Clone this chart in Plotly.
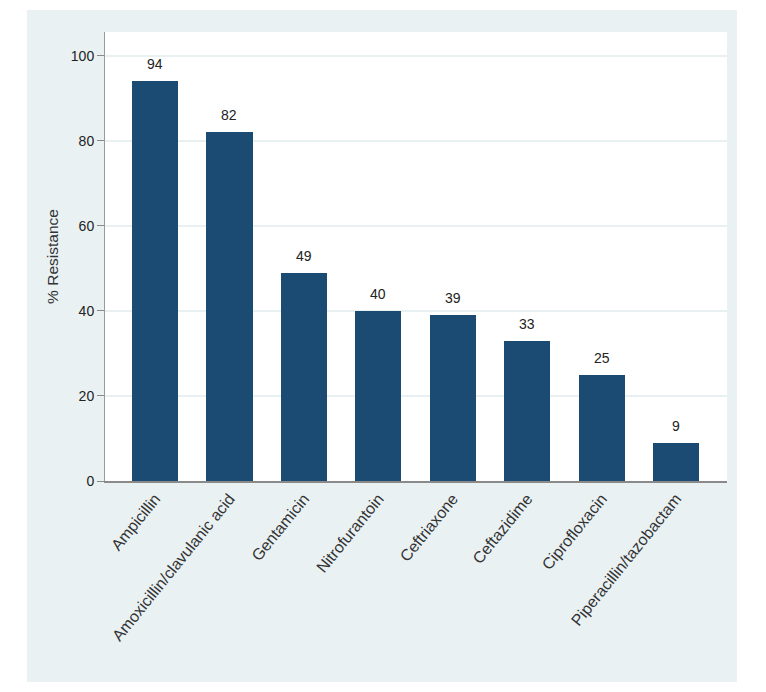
import plotly.graph_objects as go

categories = ["Ampicillin", "Amoxicillin/clavulanic acid", "Gentamicin", "Nitrofurantoin",
              "Ceftriaxone", "Ceftazidime", "Ciprofloxacin", "Piperacillin/tazobactam"]
resistance = [94, 82, 49, 40, 39, 33, 25, 9]
y_ticks = [0, 20, 40, 60, 80, 100]

# page has an 8px body margin; figure coordinates are page coordinates minus 8
OFF = 8
W, H = 750, 676
L, T = 105 - OFF, 32 - OFF
R = W - (727 - OFF)
B = H - (481 - OFF)
panel_bg = "#E9F1F3"
bar_color = "#1B4A73"

fig = go.Figure()
fig.add_trace(go.Bar(
    x=list(range(len(categories))), y=resistance,
    marker=dict(color=bar_color, line=dict(width=0)),
    width=0.62, showlegend=False, hoverinfo="skip",
))

for i, v in enumerate(resistance):
    fig.add_annotation(x=i, y=v, text=str(v), showarrow=False, yanchor="bottom",
                       yshift=7, font=dict(size=14, color="#222222",
                                           family="Liberation Sans, Arial, sans-serif"))

pw, ph = W - L - R, H - T - B
def px(x):
    return (x - L) / pw
def py(y):
    return (H - B - y) / ph
panel = (27 - OFF, 10 - OFF, 737 - OFF, 682 - OFF)  # left, top, right, bottom
for x0, y0, x1, y1 in [(0, 0, panel[0], H), (panel[2], 0, W, H),
                       (0, 0, W, panel[1]), (0, panel[3], W, H)]:
    fig.add_shape(type="rect", xref="paper", yref="paper",
                  x0=px(x0), x1=px(x1), y0=py(y1), y1=py(y0),
                  fillcolor="white", line=dict(width=0), layer="below")

fig.update_layout(
    width=W, height=H,
    margin=dict(l=L, r=R, t=T, b=B),
    paper_bgcolor=panel_bg, plot_bgcolor="white",
    font=dict(family="Liberation Sans, Arial, sans-serif", color="#222222"),
    bargap=0,
)
fig.update_xaxes(
    range=[-0.672, 7.685], tickmode="array",
    tickvals=list(range(len(categories))), ticktext=categories,
    tickangle=-51, tickfont=dict(size=16, color="#333333"),
    showgrid=False, zeroline=False,
    showline=True, linecolor="#8a8a8a", linewidth=2,
    ticks="",
)
fig.update_yaxes(
    range=[0, 105.6], tickmode="array", tickvals=y_ticks,
    tickfont=dict(size=14, color="#222222"),
    ticks="outside", ticklen=7, tickcolor="#8a8a8a", tickwidth=1,
    showgrid=True, gridcolor="#E9F0F2", gridwidth=1.5,
    zeroline=False, showline=True, linecolor="#9a9a9a", linewidth=1,
    title=dict(text="% Resistance", font=dict(size=15.5, color="#333333"), standoff=8),
)

fig.write_html("out.html")
